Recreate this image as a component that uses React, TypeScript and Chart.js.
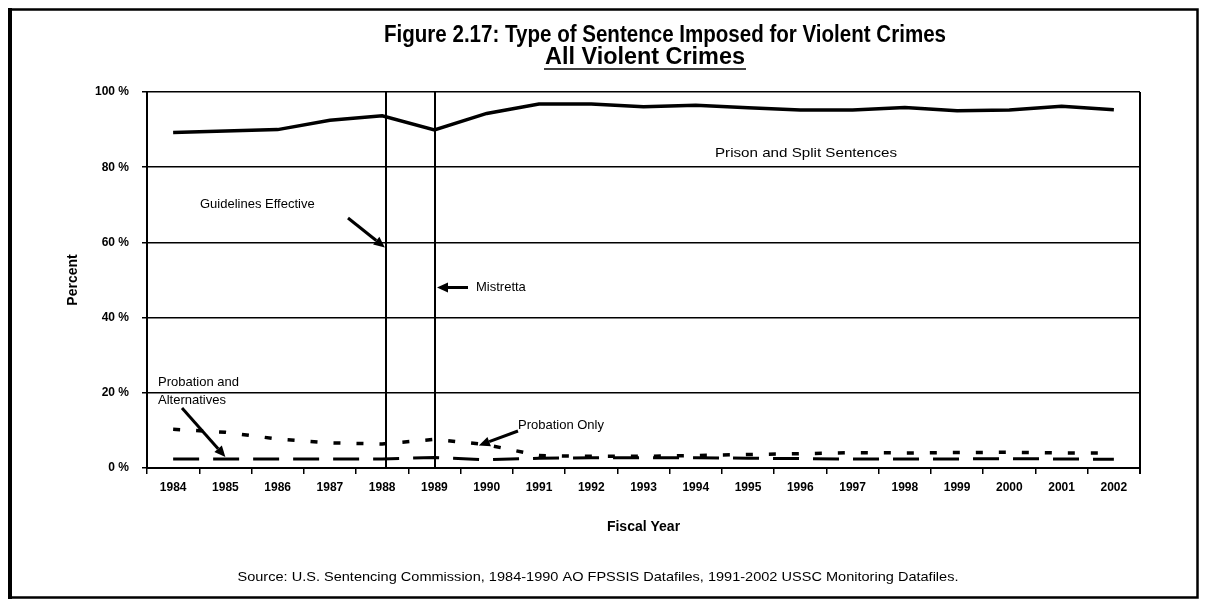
import React, { useEffect, useRef } from "react";
import { Chart, registerables } from "chart.js";

Chart.register(...registerables);

// ---------- DATA ----------
const YEARS = ["1984", "1985", "1986", "1987", "1988", "1989", "1990", "1991", "1992", "1993", "1994", "1995", "1996", "1997", "1998", "1999", "2000", "2001", "2002"];
const PRISON_SPLIT = [89.2, 89.6, 90.0, 92.5, 93.7, 89.9, 94.3, 96.8, 96.8, 96.1, 96.5, 95.8, 95.2, 95.2, 95.9, 95.0, 95.2, 96.2, 95.3];
const PROBATION_ONLY = [10.3, 9.5, 7.7, 6.7, 6.4, 7.6, 6.2, 3.3, 3.1, 3.1, 3.3, 3.6, 3.8, 4.1, 4.0, 4.1, 4.2, 4.0, 4.0];
const PROBATION_ALT = [2.4, 2.4, 2.4, 2.4, 2.4, 2.8, 2.2, 2.6, 2.7, 2.7, 2.7, 2.6, 2.5, 2.4, 2.4, 2.4, 2.5, 2.4, 2.3];
const Y_MIN = 0;
const Y_MAX = 100;
const Y_STEP = 20;

const TITLE_LINE_1 = "Figure 2.17: Type of Sentence Imposed for Violent Crimes";
const TITLE_LINE_2 = "All Violent Crimes";
const X_TITLE = "Fiscal Year";
const Y_TITLE = "Percent";
const SOURCE = "Source: U.S. Sentencing Commission, 1984-1990 AO FPSSIS Datafiles, 1991-2002 USSC Monitoring Datafiles.";
const LABEL_PRISON = "Prison and Split Sentences";
const LABEL_GUIDELINES = "Guidelines Effective";
const LABEL_MISTRETTA = "Mistretta";
const LABEL_PROB_ALT = ["Probation and", "Alternatives"];
const LABEL_PROB_ONLY = "Probation Only";

// event lines, as positions on the category axis (index units)
const GUIDELINES_AT = 4.07;
const MISTRETTA_AT = 5.01;

const FONT = "'Liberation Sans', Arial, sans-serif";

function arrow(ctx: CanvasRenderingContext2D, x1: number, y1: number, x2: number, y2: number) {
  const ang = Math.atan2(y2 - y1, x2 - x1);
  const head = 11;
  const hw = 5;
  const bx = x2 - head * Math.cos(ang);
  const by = y2 - head * Math.sin(ang);
  ctx.save();
  ctx.strokeStyle = "#000";
  ctx.fillStyle = "#000";
  ctx.lineWidth = 3;
  ctx.beginPath();
  ctx.moveTo(x1, y1);
  ctx.lineTo(bx, by);
  ctx.stroke();
  ctx.beginPath();
  ctx.moveTo(x2, y2);
  ctx.lineTo(bx + hw * Math.sin(ang), by - hw * Math.cos(ang));
  ctx.lineTo(bx - hw * Math.sin(ang), by + hw * Math.cos(ang));
  ctx.closePath();
  ctx.fill();
  ctx.restore();
}

// draw text centred at x, squeezed/stretched horizontally to a given width
function fillFit(ctx: CanvasRenderingContext2D, text: string, cx: number, y: number, w: number) {
  const m = ctx.measureText(text).width;
  const s = w / m;
  ctx.save();
  ctx.translate(cx, y);
  ctx.scale(s, 1);
  ctx.textAlign = "center";
  ctx.fillText(text, 0, 0);
  ctx.restore();
}

const decorPlugin = {
  id: "decor",
  beforeDatasetsDraw(chart: any) {
    const { ctx, chartArea, scales } = chart;
    ctx.save();
    ctx.strokeStyle = "#000";
    ctx.lineWidth = 2;
    [GUIDELINES_AT, MISTRETTA_AT].forEach((v) => {
      const x = Math.round(scales.x.getPixelForValue(v));
      ctx.beginPath();
      ctx.moveTo(x, chartArea.top);
      ctx.lineTo(x, chartArea.bottom);
      ctx.stroke();
    });
    ctx.beginPath();
    ctx.moveTo(chartArea.right, chartArea.top);
    ctx.lineTo(chartArea.right, chartArea.bottom + 6);
    ctx.stroke();
    ctx.restore();
  },
  afterDraw(chart: any) {
    const { ctx, scales, width, height } = chart;
    const xs = scales.x;
    const ys = scales.y;
    ctx.save();
    ctx.strokeStyle = "#000";
    ctx.lineWidth = 2.5;
    ctx.strokeRect(1.5, 1.5, width - 3, height - 3);
    ctx.lineWidth = 4;
    ctx.beginPath();
    ctx.moveTo(2, 0);
    ctx.lineTo(2, height);
    ctx.stroke();

    ctx.fillStyle = "#000";
    ctx.textBaseline = "middle";
    ctx.font = `bold 23px ${FONT}`;
    fillFit(ctx, TITLE_LINE_1, 657, 28, 562);
    fillFit(ctx, TITLE_LINE_2, 637, 50, 200);
    ctx.lineWidth = 1.5;
    ctx.beginPath();
    ctx.moveTo(637 - 101, 61);
    ctx.lineTo(637 + 101, 61);
    ctx.stroke();

    ctx.font = `13px ${FONT}`;
    fillFit(ctx, LABEL_PRISON, 798, 145, 182);
    ctx.textAlign = "left";
    ctx.fillText(LABEL_GUIDELINES, 192, 196);
    ctx.fillText(LABEL_MISTRETTA, 468, 279);
    ctx.fillText(LABEL_PROB_ALT[0], 150, 374);
    ctx.fillText(LABEL_PROB_ALT[1], 150, 392);
    ctx.fillText(LABEL_PROB_ONLY, 510, 417);

    const gx = xs.getPixelForValue(GUIDELINES_AT);
    const mx = xs.getPixelForValue(MISTRETTA_AT);
    arrow(ctx, 340, 210, gx - 1, ys.getPixelForValue(60) + 5);
    arrow(ctx, 460, ys.getPixelForValue(48), mx + 2, ys.getPixelForValue(48));
    arrow(ctx, 174, 400, xs.getPixelForValue(1), ys.getPixelForValue(PROBATION_ALT[1]) - 2);
    arrow(ctx, 510, 423, xs.getPixelForValue(5.85), ys.getPixelForValue(6.0));

    ctx.font = `13px ${FONT}`;
    fillFit(ctx, SOURCE, 590, 569, 721);
    ctx.restore();
  },
};

export default function App() {
  const ref = useRef<HTMLCanvasElement | null>(null);
  useEffect(() => {
    if (!ref.current) return;
    const chart = new Chart(ref.current, {
      type: "line",
      data: {
        labels: YEARS,
        datasets: [
          {
            label: "Prison and Split Sentences",
            data: PRISON_SPLIT,
            borderColor: "#000",
            borderWidth: 3.5,
            pointRadius: 0,
            tension: 0,
            fill: false,
          },
          {
            label: "Probation Only",
            data: PROBATION_ONLY,
            borderColor: "#000",
            borderWidth: 3.5,
            borderDash: [7, 16],
            pointRadius: 0,
            tension: 0,
            fill: false,
          },
          {
            label: "Probation and Alternatives",
            data: PROBATION_ALT,
            borderColor: "#000",
            borderWidth: 3,
            borderDash: [26, 14],
            pointRadius: 0,
            tension: 0,
            fill: false,
          },
        ],
      },
      options: {
        responsive: false,
        animation: false,
        layout: { padding: { top: 84, left: 48, right: 59, bottom: 56 } },
        plugins: {
          legend: { display: false },
          tooltip: { enabled: false },
          title: { display: false },
        },
        scales: {
          x: {
            type: "category",
            offset: true,
            grid: {
              display: true,
              drawOnChartArea: false,
              drawTicks: true,
              tickLength: 6,
              color: "#000",
              lineWidth: 1.5,
              offset: true,
            },
            border: { display: true, color: "#000", width: 2 },
            ticks: {
              color: "#000",
              font: { family: FONT, size: 12, weight: "bold" },
              padding: 6,
              maxRotation: 0,
              autoSkip: false,
            },
            title: {
              display: true,
              text: X_TITLE,
              color: "#000",
              font: { family: FONT, size: 14, weight: "bold" },
              padding: { top: 4, bottom: 7 },
            },
            afterFit: (s: any) => {
              s.height = 75;
            },
          },
          y: {
            min: Y_MIN,
            max: Y_MAX,
            grid: {
              color: "#000",
              lineWidth: 1.5,
              drawTicks: true,
              tickLength: 5,
            },
            border: { display: true, color: "#000", width: 2 },
            ticks: {
              stepSize: Y_STEP,
              color: "#000",
              padding: 13,
              font: { family: FONT, size: 12, weight: "bold" },
              callback: (v: any) => `${v} %`,
            },
            title: {
              display: true,
              text: Y_TITLE,
              color: "#000",
              font: { family: FONT, size: 14, weight: "bold" },
              padding: { top: 9, bottom: 0 },
            },
            afterFit: (s: any) => {
              s.width = 91;
            },
          },
        },
      },
      plugins: [decorPlugin],
    });
    return () => chart.destroy();
  }, []);
  return <canvas ref={ref} width={1191} height={591} style={{ display: "block" }} />;
}
